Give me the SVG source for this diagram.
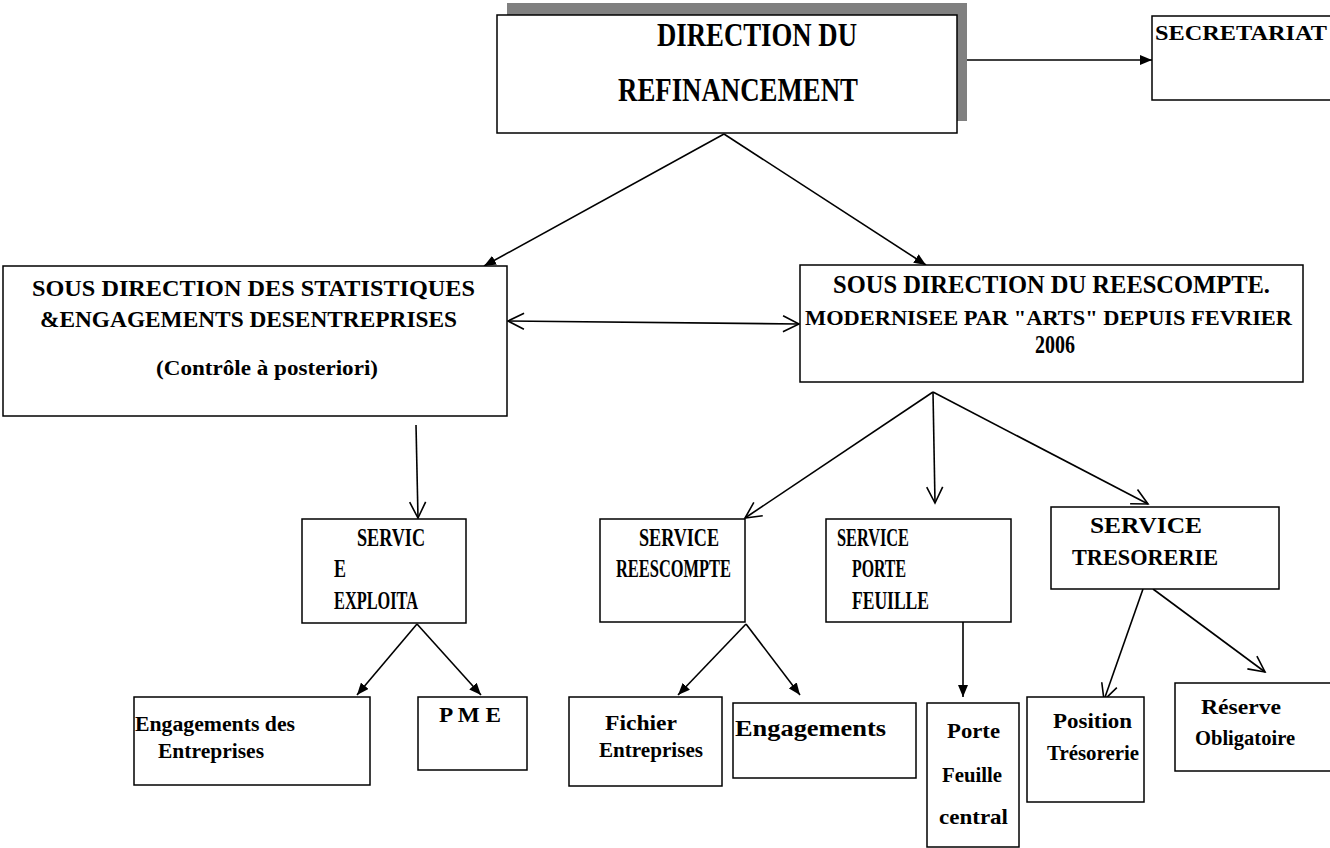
<svg xmlns="http://www.w3.org/2000/svg" width="1330" height="848" viewBox="0 0 1330 848">
<style>
.box{fill:#fff;stroke:#000;stroke-width:1.5}
.t{font-family:"Liberation Serif","Times New Roman",serif;font-weight:bold;fill:#000}
.c{fill:none;stroke:#000;stroke-width:1.6}
</style>
<defs>
<marker id="fa" viewBox="0 0 12 10" refX="12" refY="5" markerWidth="12" markerHeight="10" markerUnits="userSpaceOnUse" orient="auto-start-reverse"><path d="M0,0 L12,5 L0,10 z" fill="#000"/></marker>
<marker id="oa" viewBox="0 0 17 18" refX="16" refY="9" markerWidth="17" markerHeight="18" markerUnits="userSpaceOnUse" orient="auto-start-reverse" overflow="visible"><path d="M0,1 L16,9 L0,17" fill="none" stroke="#000" stroke-width="1.6"/></marker>
</defs>
<rect width="1330" height="848" fill="#fff"/>

<g id="connectors">
<line class="c" x1="957" y1="60" x2="1152" y2="60" marker-end="url(#fa)"/>
<line class="c" x1="724" y1="134" x2="484" y2="266" marker-end="url(#fa)"/>
<line class="c" x1="724" y1="134" x2="926" y2="265" marker-end="url(#fa)"/>
<line class="c" x1="508" y1="321" x2="799" y2="324" marker-start="url(#oa)" marker-end="url(#oa)"/>
<line class="c" x1="416" y1="425" x2="418" y2="518" marker-end="url(#oa)"/>
<line class="c" x1="933" y1="392" x2="745" y2="518" marker-end="url(#oa)"/>
<line class="c" x1="933" y1="392" x2="935" y2="503" marker-end="url(#oa)"/>
<line class="c" x1="933" y1="392" x2="1148" y2="504" marker-end="url(#oa)"/>
<line class="c" x1="417" y1="624" x2="357" y2="695" marker-end="url(#fa)"/>
<line class="c" x1="417" y1="624" x2="481" y2="695" marker-end="url(#fa)"/>
<line class="c" x1="746" y1="624" x2="678" y2="695" marker-end="url(#fa)"/>
<line class="c" x1="746" y1="624" x2="800" y2="695" marker-end="url(#fa)"/>
<line class="c" x1="963" y1="622" x2="963" y2="697" marker-end="url(#fa)"/>
<line class="c" x1="1143" y1="589" x2="1104" y2="700" marker-end="url(#oa)"/>
<line class="c" x1="1153" y1="589" x2="1265" y2="672" marker-end="url(#oa)"/>
</g>

<g id="direction">
<rect x="507" y="3" width="460" height="118" fill="#808080"/>
<rect class="box" x="497" y="15" width="460" height="118"/>
<text class="t" x="657" y="46" font-size="34" textLength="200" lengthAdjust="spacingAndGlyphs">DIRECTION DU</text>
<text class="t" x="618" y="101" font-size="34" textLength="240" lengthAdjust="spacingAndGlyphs">REFINANCEMENT</text>
</g>

<g id="secretariat">
<rect class="box" x="1152" y="16" width="200" height="84"/>
<text class="t" x="1155" y="40" font-size="22" textLength="172" lengthAdjust="spacingAndGlyphs">SECRETARIAT</text>
</g>

<g id="sd-statistiques">
<rect class="box" x="3" y="266" width="504" height="150"/>
<text class="t" x="32" y="296" font-size="24" textLength="443" lengthAdjust="spacingAndGlyphs">SOUS DIRECTION DES STATISTIQUES</text>
<text class="t" x="40" y="327" font-size="24" textLength="417" lengthAdjust="spacingAndGlyphs">&amp;ENGAGEMENTS DESENTREPRISES</text>
<text class="t" x="156" y="375" font-size="20" textLength="222" lengthAdjust="spacingAndGlyphs">(Contrôle à posteriori)</text>
</g>

<g id="sd-reescompte">
<rect class="box" x="800" y="265" width="503" height="117"/>
<text class="t" x="833" y="293" font-size="25" textLength="437" lengthAdjust="spacingAndGlyphs">SOUS DIRECTION DU REESCOMPTE.</text>
<text class="t" x="805" y="325" font-size="22" textLength="487" lengthAdjust="spacingAndGlyphs">MODERNISEE PAR "ARTS" DEPUIS FEVRIER</text>
<text class="t" x="1035" y="353" font-size="25" textLength="40" lengthAdjust="spacingAndGlyphs">2006</text>
</g>

<g id="service-exploita">
<rect class="box" x="302" y="519" width="164" height="104"/>
<text class="t" x="357" y="546" font-size="25" textLength="68" lengthAdjust="spacingAndGlyphs">SERVIC</text>
<text class="t" x="334" y="577" font-size="25" textLength="12" lengthAdjust="spacingAndGlyphs">E</text>
<text class="t" x="334" y="609" font-size="25" textLength="84" lengthAdjust="spacingAndGlyphs">EXPLOITA</text>
</g>

<g id="service-reescompte">
<rect class="box" x="600" y="519" width="145" height="103"/>
<text class="t" x="639" y="546" font-size="25" textLength="80" lengthAdjust="spacingAndGlyphs">SERVICE</text>
<text class="t" x="616" y="577" font-size="25" textLength="115" lengthAdjust="spacingAndGlyphs">REESCOMPTE</text>
</g>

<g id="service-porte-feuille">
<rect class="box" x="826" y="519" width="185" height="103"/>
<text class="t" x="837" y="546" font-size="25" textLength="72" lengthAdjust="spacingAndGlyphs">SERVICE</text>
<text class="t" x="852" y="577" font-size="25" textLength="54" lengthAdjust="spacingAndGlyphs">PORTE</text>
<text class="t" x="852" y="609" font-size="25" textLength="77" lengthAdjust="spacingAndGlyphs">FEUILLE</text>
</g>

<g id="service-tresorerie">
<rect class="box" x="1051" y="507" width="228" height="82"/>
<text class="t" x="1090" y="533" font-size="24" textLength="112" lengthAdjust="spacingAndGlyphs">SERVICE</text>
<text class="t" x="1072" y="565" font-size="24" textLength="146" lengthAdjust="spacingAndGlyphs">TRESORERIE</text>
</g>

<g id="engagements-entreprises">
<rect class="box" x="134" y="697" width="236" height="88"/>
<text class="t" x="135" y="731" font-size="20" textLength="160" lengthAdjust="spacingAndGlyphs">Engagements des</text>
<text class="t" x="158" y="758" font-size="20" textLength="106" lengthAdjust="spacingAndGlyphs">Entreprises</text>
</g>

<g id="pme">
<rect class="box" x="418" y="697" width="109" height="73"/>
<text class="t" x="439" y="722" font-size="20" textLength="62" lengthAdjust="spacingAndGlyphs">P M E</text>
</g>

<g id="fichier-entreprises">
<rect class="box" x="569" y="697" width="153" height="89"/>
<text class="t" x="605" y="730" font-size="20" textLength="72" lengthAdjust="spacingAndGlyphs">Fichier</text>
<text class="t" x="599" y="757" font-size="20" textLength="104" lengthAdjust="spacingAndGlyphs">Entreprises</text>
</g>

<g id="engagements">
<rect class="box" x="733" y="703" width="183" height="75"/>
<text class="t" x="735" y="736" font-size="24" textLength="151" lengthAdjust="spacingAndGlyphs">Engagements</text>
</g>

<g id="porte-feuille-central">
<rect class="box" x="927" y="703" width="92" height="144"/>
<text class="t" x="947" y="738" font-size="22" textLength="53" lengthAdjust="spacingAndGlyphs">Porte</text>
<text class="t" x="942" y="782" font-size="22" textLength="60" lengthAdjust="spacingAndGlyphs">Feuille</text>
<text class="t" x="939" y="824" font-size="22" textLength="69" lengthAdjust="spacingAndGlyphs">central</text>
</g>

<g id="position-tresorerie">
<rect class="box" x="1027" y="697" width="117" height="105"/>
<text class="t" x="1053" y="728" font-size="21" textLength="79" lengthAdjust="spacingAndGlyphs">Position</text>
<text class="t" x="1047" y="760" font-size="21" textLength="92" lengthAdjust="spacingAndGlyphs">Trésorerie</text>
</g>

<g id="reserve-obligatoire">
<rect class="box" x="1175" y="683" width="180" height="88"/>
<text class="t" x="1201" y="714" font-size="21" textLength="80" lengthAdjust="spacingAndGlyphs">Réserve</text>
<text class="t" x="1195" y="745" font-size="21" textLength="100" lengthAdjust="spacingAndGlyphs">Obligatoire</text>
</g>
</svg>
